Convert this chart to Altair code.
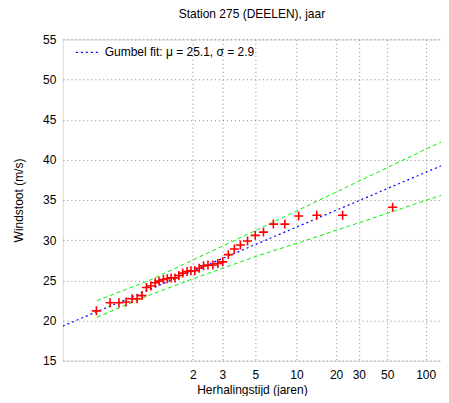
import altair as alt
import pandas as pd
import numpy as np

# Observed annual maxima: Gumbel reduced variate (x) and wind gust (m/s)
obs_x = [-1.39, -1.14, -0.98, -0.85, -0.74, -0.65, -0.56, -0.48, -0.40, -0.32,
         -0.25, -0.17, -0.10, -0.03, 0.04, 0.11, 0.18, 0.26, 0.33, 0.40,
         0.48, 0.56, 0.64, 0.73, 0.82, 0.91, 1.01, 1.12, 1.23, 1.36,
         1.50, 1.65, 1.83, 2.04, 2.29, 2.62, 3.09, 4.00]
obs_y = [21.2, 22.2, 22.2, 22.3, 22.7, 22.7, 23.1, 24.1, 24.3, 24.7,
         24.9, 25.1, 25.2, 25.3, 25.3, 25.6, 25.9, 26.1, 26.2, 26.2,
         26.5, 26.8, 26.9, 26.9, 27.1, 27.3, 28.2, 28.9, 29.4, 29.9,
         30.6, 31.0, 32.0, 32.0, 33.0, 33.1, 33.1, 34.1]

fit_label = "Gumbel fit: \u03bc = 25.1, \u03c3 = 2.9"
fit_x = [-2.0, 5.0]
fit_y = [19.3, 39.6]

upper_x = [-1.38, -0.40, 1.59, 4.62, 5.0]
upper_y = [22.47, 25.07, 31.47, 41.38, 42.6]
lower_x = [-1.38, -0.40, 0.38, 1.59, 2.32, 5.02]
lower_y = [20.41, 23.22, 25.22, 28.16, 29.74, 35.89]

return_periods = [2, 3, 5, 10, 20, 30, 50, 100]
y_ticks = [15, 20, 25, 30, 35, 40, 45, 50, 55]

tick_pos = [float(-np.log(-np.log(1 - 1 / t))) for t in return_periods]

obs = pd.DataFrame({"x": obs_x, "y": obs_y})
fit = pd.DataFrame({"x": fit_x, "y": fit_y, "label": [fit_label] * len(fit_x)})
upper = pd.DataFrame({"x": upper_x, "y": upper_y})
lower = pd.DataFrame({"x": lower_x, "y": lower_y})

FONT = "Liberation Sans"

x_enc = alt.X(
    "x:Q",
    scale=alt.Scale(domain=[-2, 4.88], nice=False, zero=False),
    axis=alt.Axis(
        values=tick_pos,
        labelExpr="format(1/(1-exp(-exp(-datum.value))), '.0f')",
        title="Herhalingstijd (jaren)",
        grid=True, gridDash=[1, 3], gridColor="#888888", gridOpacity=1,
        domain=False, tickSize=0, labelPadding=9, titlePadding=4,
        labelFontSize=12, titleFontSize=12, labelFont=FONT, titleFont=FONT,
        titleFontWeight="normal", labelColor="#000", titleColor="#000",
    ),
)
y_enc = alt.Y(
    "y:Q",
    scale=alt.Scale(domain=[15, 55], nice=False, zero=False),
    axis=alt.Axis(
        values=y_ticks,
        title="Windstoot (m/s)",
        grid=True, gridDash=[1, 3], gridColor="#888888", gridOpacity=1,
        domain=False, tickSize=0, labelPadding=7, titlePadding=17,
        labelFontSize=12, titleFontSize=12, labelFont=FONT, titleFont=FONT,
        titleFontWeight="normal", labelColor="#000", titleColor="#000",
    ),
)

upper_line = alt.Chart(upper).mark_line(
    color="#00ee00", strokeDash=[4, 3], strokeWidth=1, clip=True
).encode(x=x_enc, y=y_enc)

lower_line = alt.Chart(lower).mark_line(
    color="#00ee00", strokeDash=[4, 3], strokeWidth=1, clip=True
).encode(x=x_enc, y=y_enc)

fit_line = alt.Chart(fit).mark_line(
    strokeDash=[2, 3], strokeWidth=1.2, clip=True
).encode(
    x=x_enc, y=y_enc,
    color=alt.Color(
        "label:N",
        scale=alt.Scale(domain=[fit_label], range=["#0000ff"]),
        legend=alt.Legend(
            title=None, orient="none", legendX=12, legendY=1, padding=0,
            symbolType="stroke", symbolSize=480, symbolStrokeWidth=1.2,
            symbolDash=[2, 3], labelFontSize=12, labelFont=FONT,
            labelColor="#000", labelOffset=6,
        ),
    ),
)

points = alt.Chart(obs).mark_point(
    shape="M-1,0L1,0M0,-1L0,1", filled=False, color="#ff0000",
    strokeWidth=1.6, size=81, opacity=1, clip=True
).encode(x=x_enc, y=y_enc)

chart = alt.layer(upper_line, lower_line, fit_line, points).properties(
    width=379,
    height=322,
    padding={"left": 4, "top": 0, "right": 0, "bottom": 0},
    title=alt.Title(
        "Station 275 (DEELEN), jaar", fontSize=12, fontWeight="normal",
        font=FONT, color="#000", offset=12,
    ),
).configure_view(stroke="#000000", strokeWidth=1.2).configure(background="white")

chart.save("out.html", embed_options={"renderer": "svg", "actions": False})
